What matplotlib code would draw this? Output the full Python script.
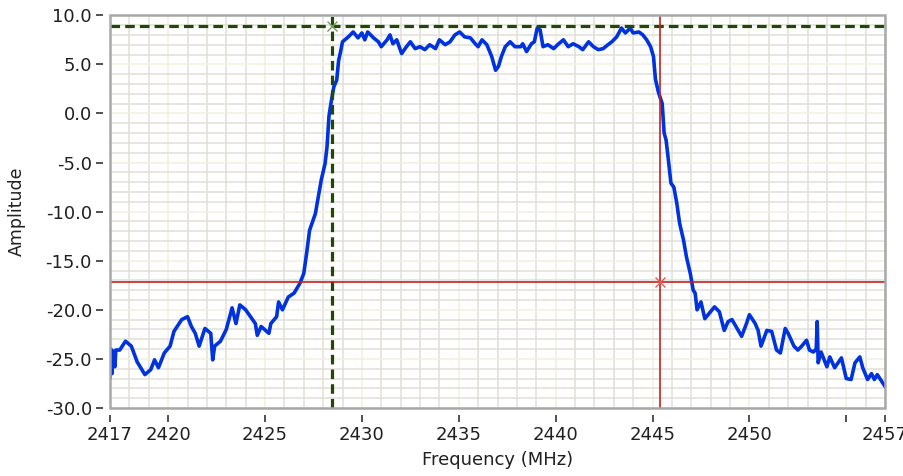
import matplotlib
matplotlib.use("Agg")
import matplotlib.pyplot as plt
from matplotlib.patches import Rectangle
from matplotlib.ticker import MultipleLocator

# spectrum trace (MHz, amplitude)
freq = [2417.0, 2417.05, 2417.1, 2417.15, 2417.25, 2417.3, 2417.5, 2417.8, 2418.1, 2418.4,
        2418.8, 2419.1, 2419.3, 2419.5, 2419.8, 2420.1, 2420.3, 2420.7, 2421.0, 2421.2,
        2421.4, 2421.6, 2421.9, 2422.2, 2422.3, 2422.4, 2422.7, 2423.0, 2423.3, 2423.5,
        2423.7, 2424.0, 2424.5, 2424.6, 2424.8, 2425.2, 2425.3, 2425.6, 2425.7, 2425.9,
        2426.2, 2426.5, 2426.8, 2427.0, 2427.15, 2427.3, 2427.6, 2427.75, 2427.9, 2428.1,
        2428.2, 2428.3, 2428.4, 2428.55, 2428.7, 2428.8, 2428.9, 2429.0, 2429.3, 2429.55,
        2429.8, 2430.0, 2430.15, 2430.3, 2430.6, 2430.85, 2431.0, 2431.3, 2431.45, 2431.6,
        2431.8, 2432.05, 2432.3, 2432.5, 2432.75, 2433.0, 2433.25, 2433.5, 2433.8, 2434.0,
        2434.3, 2434.55, 2434.8, 2435.05, 2435.3, 2435.6, 2435.85, 2436.0, 2436.2, 2436.45,
        2436.7, 2436.9, 2437.05, 2437.2, 2437.4, 2437.65, 2437.9, 2438.2, 2438.3, 2438.5,
        2438.75, 2438.9, 2439.05, 2439.2, 2439.35, 2439.6, 2439.9, 2440.1, 2440.4, 2440.65,
        2440.9, 2441.2, 2441.4, 2441.7, 2441.95, 2442.2, 2442.45, 2442.7, 2442.9, 2443.15,
        2443.4, 2443.6, 2443.85, 2444.0, 2444.3, 2444.5, 2444.7, 2444.9, 2445.05, 2445.15,
        2445.3, 2445.5, 2445.6, 2445.7, 2445.8, 2445.95, 2446.1, 2446.25, 2446.4, 2446.6,
        2446.75, 2446.95, 2447.1, 2447.2, 2447.3, 2447.5, 2447.7, 2447.95, 2448.2, 2448.45,
        2448.7, 2448.9, 2449.1, 2449.25, 2449.6, 2449.85, 2450.0, 2450.3, 2450.45, 2450.6,
        2450.9, 2451.15, 2451.4, 2451.6, 2451.85, 2452.0, 2452.3, 2452.5, 2452.7, 2452.95,
        2453.1, 2453.3, 2453.45, 2453.5, 2453.55, 2453.7, 2454.0, 2454.15, 2454.4, 2454.75,
        2455.0, 2455.25, 2455.45, 2455.7, 2455.85, 2456.1, 2456.3, 2456.45, 2456.6, 2456.9,
        2457.0]
amp = [-26.9, -24.0, -26.5, -24.2, -25.8, -24.1, -24.1, -23.2, -23.7, -25.3,
       -26.6, -26.1, -25.1, -25.9, -24.4, -23.7, -22.2, -21.0, -20.7, -21.7,
       -22.4, -23.7, -21.9, -22.4, -25.1, -23.7, -23.2, -22.0, -19.8, -21.4,
       -19.5, -20.0, -21.4, -22.6, -21.7, -22.4, -21.4, -20.7, -19.2, -20.0,
       -18.7, -18.3, -17.3, -16.3, -14.2, -11.9, -10.2, -8.5, -6.8, -5.1,
       -3.4, -0.3, 1.0, 2.7, 3.4, 5.4, 6.3, 7.3, 7.8, 8.3,
       7.7, 8.2, 7.5, 8.3, 7.7, 7.3, 6.8, 7.5, 8.0, 7.1,
       7.5, 6.1, 6.8, 7.3, 6.6, 6.8, 6.5, 7.0, 6.6, 7.5,
       7.0, 7.3, 8.0, 8.3, 7.8, 7.7, 7.1, 6.8, 7.5, 7.0,
       5.8, 4.4, 4.8, 5.8, 6.8, 7.3, 6.8, 6.8, 7.1, 6.3,
       7.1, 7.3, 8.7, 8.5, 6.8, 7.0, 6.6, 7.0, 7.5, 6.8,
       7.1, 6.8, 6.5, 7.3, 6.8, 6.5, 6.6, 7.0, 7.3, 7.8,
       8.7, 8.2, 8.7, 8.2, 8.3, 8.0, 7.5, 6.8, 5.8, 3.5,
       2.2, 1.0, -2.0, -2.7, -4.4, -7.1, -7.5, -9.1, -11.2, -12.9,
       -14.6, -16.3, -18.0, -18.3, -20.0, -19.2, -20.9, -20.3, -19.7, -20.2,
       -22.1, -21.2, -21.0, -21.5, -22.7, -21.4, -20.5, -21.4, -22.1, -23.7,
       -22.1, -22.2, -24.1, -24.4, -21.9, -22.4, -23.7, -24.1, -23.7, -23.1,
       -24.1, -24.3, -24.0, -21.2, -25.4, -24.3, -25.8, -24.8, -25.9, -24.9,
       -27.0, -27.1, -25.4, -24.8, -25.9, -27.1, -26.5, -27.1, -26.6, -27.5,
       -27.8]

# cursor positions
cursor1 = (2428.45, 8.95)
cursor2 = (2445.4, -17.15)

xticks = [2417, 2420, 2425, 2430, 2435, 2440, 2445, 2450, 2455, 2457]
xticklabels = ["2417", "2420", "2425", "2430", "2435", "2440", "2445", "2450", "", "2457"]
yticks = [-30, -25, -20, -15, -10, -5, 0, 5, 10]

plt.rcParams["font.family"] = "DejaVu Sans"

fig = plt.figure(figsize=(9.04, 4.76), dpi=100)
ax = fig.add_axes([0.1217, 0.1429, 0.8573, 0.8250])
ax.set_xlim(2417, 2457)
ax.set_ylim(-30, 10)

# grid: minor every 1, major every 5
ax.xaxis.set_minor_locator(MultipleLocator(1))
ax.yaxis.set_minor_locator(MultipleLocator(1))
ax.grid(which="minor", color="#e2dfd8", lw=1.1, zorder=0)
ax.grid(which="major", color="#f3efdf", lw=1.1, zorder=0)
ax.set_axisbelow(True)

ax.plot(freq, amp, color="#0033dd", lw=2.6, zorder=3)

# cursors
ax.axvline(cursor1[0], color="#1f4a06", lw=2.3, dashes=(3.0, 1.6), zorder=4)
ax.axhline(cursor1[1], color="#1f4a06", lw=2.3, dashes=(3.0, 1.6), zorder=4)
ax.plot(*cursor1, marker="x", ms=7, mew=1.0, color="#7a9a6a", zorder=5)
ax.axvline(cursor2[0], color="#c42020", lw=1.2, zorder=4)
ax.axhline(cursor2[1], color="#c42020", lw=1.2, zorder=4)
ax.plot(*cursor2, marker="x", ms=7, mew=1.0, color="#d86060", zorder=5)

ax.set_xticks(xticks)
ax.set_xticklabels(xticklabels)
ax.set_yticks(yticks)
ax.set_yticklabels(["%.1f" % v for v in yticks])
ax.tick_params(which="major", length=5, width=1.1, color="#202020",
               labelsize=13, labelcolor="#202020", pad=3)
ax.tick_params(which="minor", length=0)

# ticks sit a few pixels away from the frame
for s in ["left", "bottom"]:
    ax.spines[s].set_position(("outward", 5))
    ax.spines[s].set_color("none")
for s in ["top", "right"]:
    ax.spines[s].set_visible(False)
ax.add_patch(Rectangle((0, 0), 1, 1, transform=ax.transAxes, fill=False,
                       edgecolor="#a8a8a8", lw=1.8, clip_on=False, zorder=6))

ax.set_xlabel("Frequency (MHz)", fontsize=13, color="#202020", labelpad=5)
ax.set_ylabel("Amplitude", fontsize=12.5, color="#202020")
ax.yaxis.set_label_coords(-0.108, 0.5)

fig.savefig("out.png", dpi=100)
